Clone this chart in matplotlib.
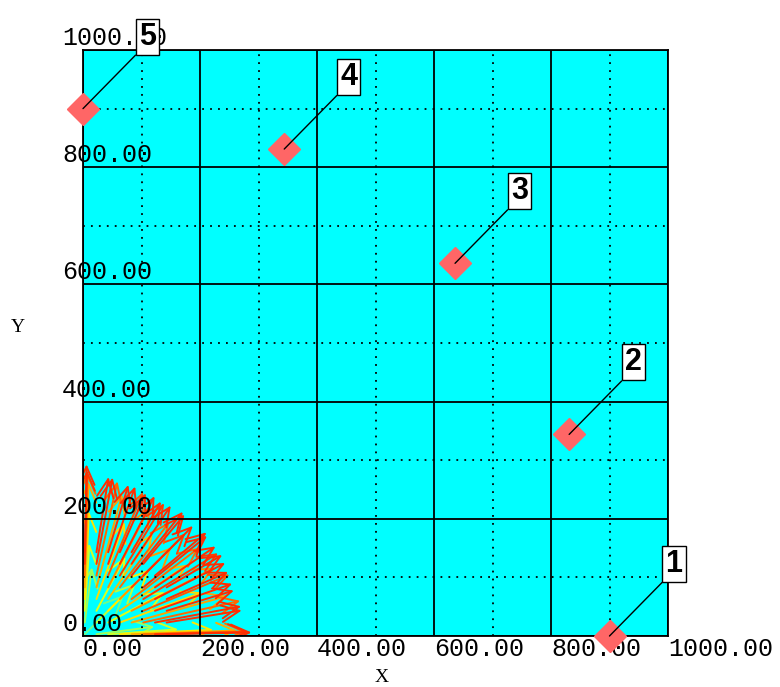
import numpy as np
import matplotlib
matplotlib.use("Agg")
import matplotlib.pyplot as plt
from matplotlib.patches import FancyArrowPatch
from matplotlib.colors import Normalize

# ---- data ----
point_labels = ["1", "2", "3", "4", "5"]
point_x = [900, 831, 636, 344, 0]
point_y = [0, 344, 636, 831, 900]

tick_values = [0, 200, 400, 600, 800, 1000]
tick_labels = ["0.00", "200.00", "400.00", "600.00", "800.00", "1000.00"]
minor_values = [100, 300, 500, 700, 900]

# vector field near the origin: arrows start on a small grid and point away from (0, 0)
field_x = [3, 23, 43, 63, 83, 103, 123, 143]
field_y = [3, 23, 43, 63, 83, 103, 123, 143]
# arrow length for each grid point (rows follow field_y, columns follow field_x), 0 = no arrow
field_len = [
    [95, 100, 120, 160, 180, 175, 160, 145],
    [95, 95, 110, 150, 170, 170, 150, 130],
    [115, 105, 100, 140, 160, 160, 140, 120],
    [150, 140, 135, 125, 145, 150, 135, 115],
    [180, 165, 155, 140, 130, 140, 125, 110],
    [175, 165, 155, 145, 140, 120, 115, 0],
    [160, 150, 140, 130, 120, 110, 0, 0],
    [150, 130, 120, 110, 100, 0, 0, 0],
]

fig = plt.figure(figsize=(7.8, 6.87), dpi=100)
ax = fig.add_axes([83 / 780, 51 / 687, 585 / 780, 586 / 687])
ax.set_facecolor("#00ffff")
ax.set_xlim(0, 1000)
ax.set_ylim(0, 1000)
ax.set_axisbelow(False)

# colour follows distance from the origin: green inside, red outside
cmap = plt.get_cmap("jet")
norm = Normalize(vmin=-150, vmax=170)

arrows = []
for j, y0 in enumerate(field_y):
    for i, x0 in enumerate(field_x):
        ln = field_len[j][i]
        if ln <= 0:
            continue
        r0 = np.hypot(x0, y0)
        arrows.append((r0, x0, y0, ln))
arrows.sort()

for r0, x0, y0, ln in arrows:
    ux, uy = x0 / r0, y0 / r0
    arr = FancyArrowPatch((x0, y0), (x0 + ln * ux, y0 + ln * uy),
                          arrowstyle="->,head_length=0.65,head_width=0.3",
                          mutation_scale=20, color=cmap(min(0.86, norm(r0))), lw=1.4,
                          shrinkA=0, shrinkB=0, zorder=1.5)
    ax.add_patch(arr)

# grid and ticks
ax.set_xticks(tick_values)
ax.set_yticks(tick_values)
ax.set_xticks(minor_values, minor=True)
ax.set_yticks(minor_values, minor=True)
ax.set_xticklabels(tick_labels, fontfamily="Liberation Mono", fontsize=18, ha="left")
ax.set_yticklabels(tick_labels, fontfamily="Liberation Mono", fontsize=18, ha="left", va="bottom")
ax.tick_params(which="both", length=0)
ax.tick_params(axis="x", pad=1)
ax.tick_params(axis="y", pad=15)
ax.grid(which="major", color="black", linewidth=1.3, linestyle="-")
ax.grid(which="minor", color="black", linewidth=1.3, linestyle=(0, (1, 3.4)))
for sp in ax.spines.values():
    sp.set_linewidth(1.3)
    sp.set_color("black")

# labelled diamonds
ax.plot(point_x, point_y, linestyle="none", marker="D", markersize=16.5,
        color="#ff6666", clip_on=False, zorder=4)
for lbl, x, y in zip(point_labels, point_x, point_y):
    ax.annotate(lbl, xy=(x, y), xytext=(56, 57), textcoords="offset pixels",
                ha="left", va="bottom", fontsize=22, fontweight="bold",
                fontfamily="Liberation Sans",
                bbox=dict(boxstyle="square,pad=0.1", fc="white", ec="black", lw=1),
                arrowprops=dict(arrowstyle="-", color="black", lw=1,
                                relpos=(0, 0), shrinkA=0, shrinkB=0),
                zorder=5, annotation_clip=False)

fig.text(382 / 780, 1 - 678 / 687, "X", fontfamily="Liberation Serif", fontsize=14,
         ha="center", va="center")
fig.text(18 / 780, 1 - 328 / 687, "Y", fontfamily="Liberation Serif", fontsize=14,
         ha="center", va="center")

fig.savefig("out.png", dpi=100)
